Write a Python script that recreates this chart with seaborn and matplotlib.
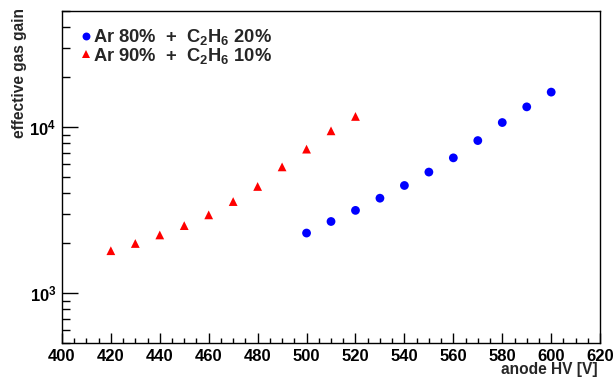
import numpy as np
import pandas as pd
import matplotlib
matplotlib.use("Agg")
import matplotlib.pyplot as plt
import matplotlib.ticker as mticker
import seaborn as sns

# data
hv_ar80 = [500, 510, 520, 530, 540, 550, 560, 570, 580, 590, 600]
gain_ar80 = [2300, 2700, 3150, 3730, 4450, 5360, 6530, 8300, 10660, 13250, 16260]
hv_ar90 = [420, 430, 440, 450, 460, 470, 480, 490, 500, 510, 520]
gain_ar90 = [1800, 1990, 2240, 2550, 2960, 3560, 4390, 5760, 7370, 9500, 11600]

label_80 = r"Ar 80%  +  C$_2$H$_6$ 20%"
label_90 = r"Ar 90%  +  C$_2$H$_6$ 10%"

df = pd.concat([
    pd.DataFrame({"hv": hv_ar80, "gain": gain_ar80, "gas": label_80}),
    pd.DataFrame({"hv": hv_ar90, "gain": gain_ar90, "gas": label_90}),
])

sns.set_style("ticks")
plt.rcParams["font.family"] = ["Liberation Sans", "DejaVu Sans"]
plt.rcParams["font.weight"] = "bold"
plt.rcParams["mathtext.fontset"] = "custom"
plt.rcParams["mathtext.rm"] = "Liberation Sans:bold"
plt.rcParams["mathtext.bf"] = "Liberation Sans:bold"
plt.rcParams["mathtext.it"] = "Liberation Sans:bold"
plt.rcParams["mathtext.default"] = "bf"

fig = plt.figure(figsize=(6.13, 3.81), dpi=100)
ax = fig.add_axes([0.101, 0.0997, 0.878, 0.871])

sns.scatterplot(data=df, x="hv", y="gain", hue="gas", style="gas",
                palette={label_80: "blue", label_90: "red"},
                markers={label_80: "o", label_90: "^"},
                s=40, linewidth=0, ax=ax)

ax.set_yscale("log")
ax.set_xlim(400, 620)
ax.set_ylim(500, 50000)

ax.xaxis.set_major_locator(mticker.MultipleLocator(20))
ax.xaxis.set_minor_locator(mticker.MultipleLocator(5))
ax.yaxis.set_major_locator(mticker.LogLocator(base=10, numticks=10))
ax.yaxis.set_minor_locator(mticker.LogLocator(base=10, subs=np.arange(2, 10), numticks=20))
ax.yaxis.set_minor_formatter(mticker.NullFormatter())

ax.tick_params(axis="both", which="both", direction="in", width=1,
               labelsize=12, colors="black")
ax.tick_params(axis="x", which="major", length=7, pad=4)
ax.tick_params(axis="x", which="minor", length=3.5)
ax.tick_params(axis="y", which="major", length=11.5, pad=4)
ax.tick_params(axis="y", which="minor", length=5.5)
for lab in ax.get_xticklabels() + ax.get_yticklabels():
    lab.set_fontweight("bold")

for sp in ax.spines.values():
    sp.set_visible(True)
    sp.set_linewidth(1)
    sp.set_color("black")

ax.set_xlabel("anode HV [V]", fontsize=11.2, fontweight="bold",
              ha="right", va="top")
ax.xaxis.set_label_coords(0.995, -0.058)
ax.set_ylabel("effective gas gain", fontsize=11.2, fontweight="bold",
              ha="right", va="center")
ax.yaxis.set_label_coords(-0.078, 1.01)

leg = ax.legend(loc="upper left", bbox_to_anchor=(-0.014, 0.99), frameon=False,
                fontsize=13.2, handletextpad=-0.6, labelspacing=-0.08,
                borderaxespad=0.3, markerscale=0.9)
for t in leg.get_texts():
    t.set_fontweight("bold")

fig.savefig("out.png", dpi=100)
